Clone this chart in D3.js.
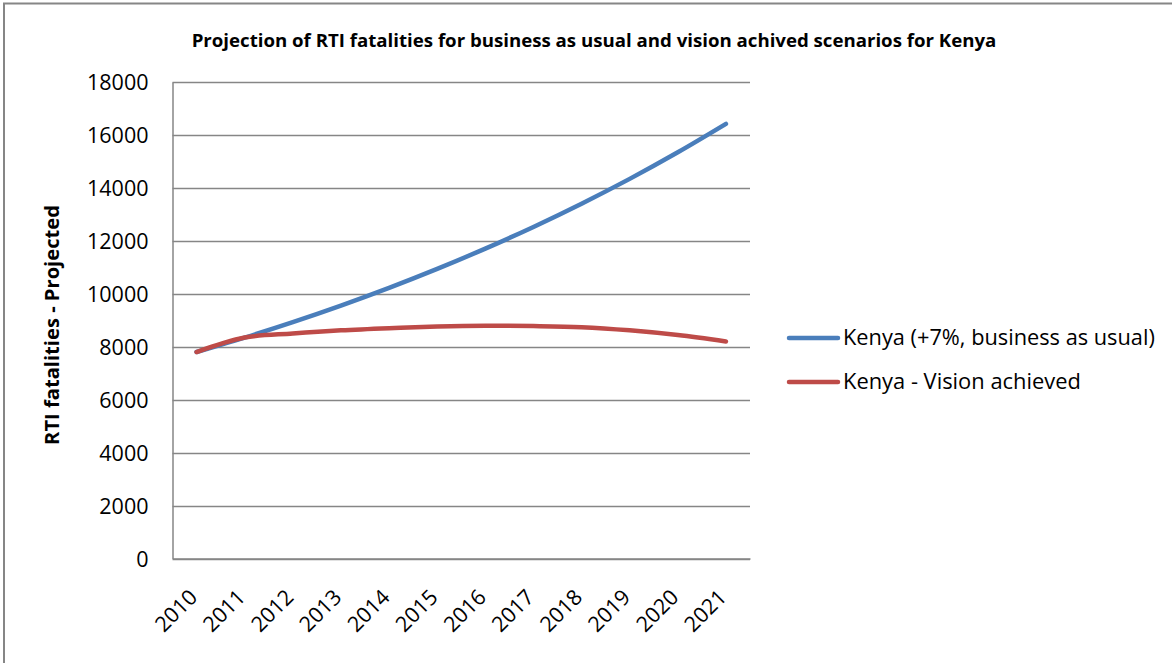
<!DOCTYPE html>
<html>
<head>
<meta charset="utf-8">
<script src="https://cdn.jsdelivr.net/npm/d3@7"></script>
<style>
  html, body { margin: 0; padding: 0; background: #fff; }
  svg { display: block; }
</style>
</head>
<body>
<svg id="chart" width="1172" height="663"></svg>
<script>
// Projected road traffic injury (RTI) fatalities, Kenya 2010–2021
const years = ["2010","2011","2012","2013","2014","2015","2016","2017","2018","2019","2020","2021"];
const businessAsUsual = [7800, 8346, 8930, 9555, 10224, 10940, 11706, 12525, 13402, 14340, 15344, 16418];
const visionAchieved  = [7800, 8346, 8500, 8620, 8700, 8760, 8790, 8780, 8740, 8620, 8440, 8200];
const yTicks = [0, 2000, 4000, 6000, 8000, 10000, 12000, 14000, 16000, 18000];
const seriesNames = ["Kenya (+7%, business as usual)", "Kenya - Vision achieved"];
const seriesColors = ["#4a7ebb", "#be4b48"];
const chartTitle = "Projection of RTI fatalities for business as usual and vision achived scenarios for Kenya";
const yAxisTitle = "RTI fatalities - Projected";

const FONT = "'Open Sans', 'Liberation Sans', Arial, sans-serif";
const svg = d3.select("#chart");

// Scale a text element's font size so its rendered width equals the target
function fitWidth(sel, target) {
  const node = sel.node();
  const fs = parseFloat(sel.attr("font-size"));
  const w = node.getComputedTextLength();
  if (w > 0) sel.attr("font-size", (fs * target / w).toFixed(2));
  return sel;
}

// Outer chart frame
svg.append("path")
  .attr("d", "M4,670 L4,3.5 L1180,3.5")
  .attr("fill", "none").attr("stroke", "#868686").attr("stroke-width", 2);

const plot = { left: 172.5, right: 750, top: 82, bottom: 558.5 };

const x = d3.scaleBand().domain(years).range([plot.left, plot.right]);
const y = d3.scaleLinear().domain([0, 18000]).range([plot.bottom, plot.top]);

// Horizontal gridlines
svg.append("g")
  .selectAll("line").data(yTicks).join("line")
  .attr("x1", plot.left).attr("x2", plot.right)
  .attr("y1", d => Math.round(y(d)) + 0.5).attr("y2", d => Math.round(y(d)) + 0.5)
  .attr("stroke", "#868686").attr("stroke-width", 1.3);

// Y axis
const yAxis = svg.append("g")
  .attr("transform", `translate(${plot.left},0)`)
  .call(d3.axisLeft(y).tickValues(yTicks).tickSize(0).tickPadding(24).tickFormat(d3.format("d")));
yAxis.select(".domain").attr("stroke", "#868686").attr("stroke-width", 1.5);
yAxis.selectAll("text")
  .attr("font-family", FONT).attr("font-size", 20).attr("fill", "#000")
  .attr("dy", "0.36em");
yAxis.selectAll(".tick text").each(function (d) {
  const t = d3.select(this);
  fitWidth(t, String(d).length * 12.3);
});

// X axis
const xAxis = svg.append("g")
  .attr("transform", `translate(0,${plot.bottom})`)
  .call(d3.axisBottom(x).tickSize(0).tickPadding(0));
xAxis.select(".domain").attr("stroke", "#868686").attr("stroke-width", 1.5);
xAxis.selectAll(".tick text")
  .attr("font-family", FONT).attr("font-size", 19).attr("fill", "#000")
  .attr("text-anchor", "end")
  .attr("y", 0).attr("dy", 0)
  .attr("transform", "translate(2,40) rotate(-45)")
  .each(function () { fitWidth(d3.select(this), 49); });

// Series lines (smoothed)
const line = d3.line()
  .x((d, i) => x(years[i]) + x.bandwidth() / 2)
  .y(d => y(d))
  .curve(d3.curveCatmullRom.alpha(0.5));

[businessAsUsual, visionAchieved].forEach((vals, k) => {
  svg.append("path")
    .datum(vals)
    .attr("d", line)
    .attr("fill", "none")
    .attr("stroke", seriesColors[k])
    .attr("stroke-width", 4.5)
    .attr("stroke-linecap", "round")
    .attr("stroke-linejoin", "round");
});

// Legend
const legendY = [338, 382];
seriesNames.forEach((name, k) => {
  svg.append("line")
    .attr("x1", 789).attr("x2", 838)
    .attr("y1", legendY[k]).attr("y2", legendY[k])
    .attr("stroke", seriesColors[k]).attr("stroke-width", 4.5)
    .attr("stroke-linecap", "round");
  const t = svg.append("text")
    .attr("x", 843).attr("y", legendY[k] + 7)
    .attr("font-family", FONT).attr("font-size", 20).attr("fill", "#000")
    .text(name);
  if (k === 0) fitWidth(t, 312);
  else fitWidth(t, 238);
});

// Title
const title = svg.append("text")
  .attr("x", 594).attr("y", 47)
  .attr("text-anchor", "middle")
  .attr("font-family", FONT).attr("font-weight", "bold")
  .attr("font-size", 16).attr("fill", "#000")
  .text(chartTitle);
fitWidth(title, 805);

// Y axis title
const yt = svg.append("text")
  .attr("transform", "translate(59,325) rotate(-90)")
  .attr("text-anchor", "middle")
  .attr("font-family", FONT).attr("font-weight", "bold")
  .attr("font-size", 18).attr("fill", "#000")
  .text(yAxisTitle);
fitWidth(yt, 240);
</script>
</body>
</html>
